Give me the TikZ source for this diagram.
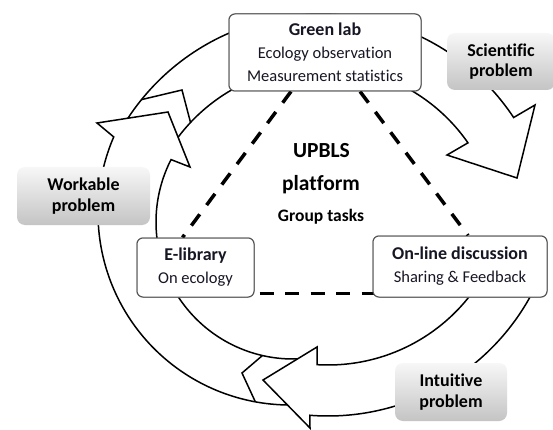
\documentclass[tikz,border=0pt]{standalone}
\usepackage{fontspec}
\setmainfont{Carlito}[Ligatures={NoCommon}]
\usetikzlibrary{calc}

\definecolor{boxline}{RGB}{85,85,85}
\definecolor{greytop}{RGB}{247,247,247}
\definecolor{greybot}{RGB}{196,196,196}
\definecolor{inkdark}{RGB}{22,22,36}

\tikzset{
  band/.style={draw=black, line width=1.5pt, fill=white, line join=miter},
  notchline/.style={draw=black, line width=1.5pt, line join=miter},
  labbox/.style={draw=boxline, line width=1pt, fill=white, rounded corners=6pt,
    align=center, inner sep=0pt, text=inkdark, font=\fontsize{16.5}{23}\selectfont},
  probbox/.style={rounded corners=8pt, top color=greytop, bottom color=greybot,
    draw=none, align=center, inner sep=0pt, text=black,
    font=\bfseries\fontsize{18}{20.5}\selectfont},
  link/.style={draw=black, line width=3.5pt, dash pattern=on 14pt off 11.5pt},
  hubtext/.style={anchor=base, inner sep=0pt, text=black},
}
\newcommand\labtitle[1]{{\bfseries\fontsize{18}{23}\selectfont #1}}

\begin{document}
\begin{tikzpicture}[x=1pt,y=-1pt]
\useasboundingbox (0,0) rectangle (553,430);
\fill[white] (0,0) rectangle (553,430);

% upper arc arrow: from the upper left over the top to the upper right
\path[band]
  plot[domain=212:326.5, samples=90] ({321+231*cos(\x)},{245+231*sin(\x)})
  -- (535,105) -- (517,178) -- (447,155)
  -- plot[domain=0:1, samples=90] ({321+179*cos(325.2-110.2*\x)},{245+179*sin(325.2-110.2*\x)})
  -- cycle;
\draw[notchline] ({321+231*cos(219)},{245+231*sin(219)}) -- (182,90)
  -- ({321+179*cos(223.2)},{245+179*sin(223.2)});

% left arc arrow: from the bottom up to the upper left
\path[band]
  plot[domain=0:1, samples=90] ({290+192*cos(88+115.4*\x)},{213+192*sin(88+115.4*\x)})
  -- (97,123) -- (168,112) -- (190,167)
  -- plot[domain=0:1, samples=90] ({293+137*cos(207.1-123.1*\x)},{222+137*sin(207.1-123.1*\x)})
  -- cycle;
\draw[notchline] ({290+192*cos(100.4)},{213+192*sin(100.4)}) -- (242,373)
  -- ({293+137*cos(102.9)},{222+137*sin(102.9)});

% lower arc arrow: from the right side down to the bottom
\path[band]
  plot[domain=22:94.5, samples=90] ({328+231*cos(\x)},{185+231*sin(\x)})
  -- (310,428) -- (263,380) -- (317,347)
  -- plot[domain=0:1, samples=90] ({328+180*cos(93.5-71.5*\x)},{185+180*sin(93.5-71.5*\x)})
  -- cycle;

% platform parts
\node[labbox, minimum width=192pt, minimum height=77pt] (green) at (325,52.5) {};
\node[labbox, minimum width=117pt, minimum height=59pt] (elib) at (195.5,267.5) {};
\node[labbox, minimum width=174pt, minimum height=61pt] (onl) at (460,266.5) {};

% dashed triangle between the parts
\coordinate (gl) at ($(green.south)+(-34,0)$);
\coordinate (gr) at ($(green.south)+(35,0)$);
\coordinate (el) at ($(elib.north)+(-13,0)$);
\coordinate (eb) at ($(elib.south east)+(5,-4)$);
\coordinate (ot) at ($(onl.north)+(8,0)$);
\coordinate (ob) at ($(onl.south west)+(1,-4)$);
\draw[link] (gl) -- (el);
\draw[link] (gr) -- (ot);
\draw[link] (eb) -- (ob);

\node[labbox, minimum width=192pt, minimum height=77pt] (greenT) at (325,52.5)
  {\labtitle{Green lab}\\Ecology observation\\Measurement statistics};
\node[labbox, minimum width=117pt, minimum height=59pt] (elibT) at (195.5,267.5)
  {\labtitle{E-library}\\On ecology};
\node[labbox, minimum width=174pt, minimum height=61pt] (onlT) at (460,266.5)
  {\labtitle{On-line discussion}\\Sharing \& Feedback};

% problem labels
\node[probbox, minimum width=108pt, minimum height=57pt] (sci) at (501,61.5) {Scientific\\problem};
\node[probbox, minimum width=133pt, minimum height=58pt] (work) at (83.5,196) {Workable\\problem};
\node[probbox, minimum width=112pt, minimum height=58pt] (intu) at (451,392) {Intuitive\\problem};

% centre text
\node[hubtext, font=\bfseries\fontsize{21.5}{26}\selectfont] (upbls) at (321.5,158) {UPBLS};
\node[hubtext, font=\bfseries\fontsize{21.5}{26}\selectfont] (platf) at (321,191) {platform};
\node[hubtext, font=\bfseries\fontsize{17.5}{21}\selectfont] (gtasks) at (321,222) {Group tasks};
\end{tikzpicture}
\end{document}
